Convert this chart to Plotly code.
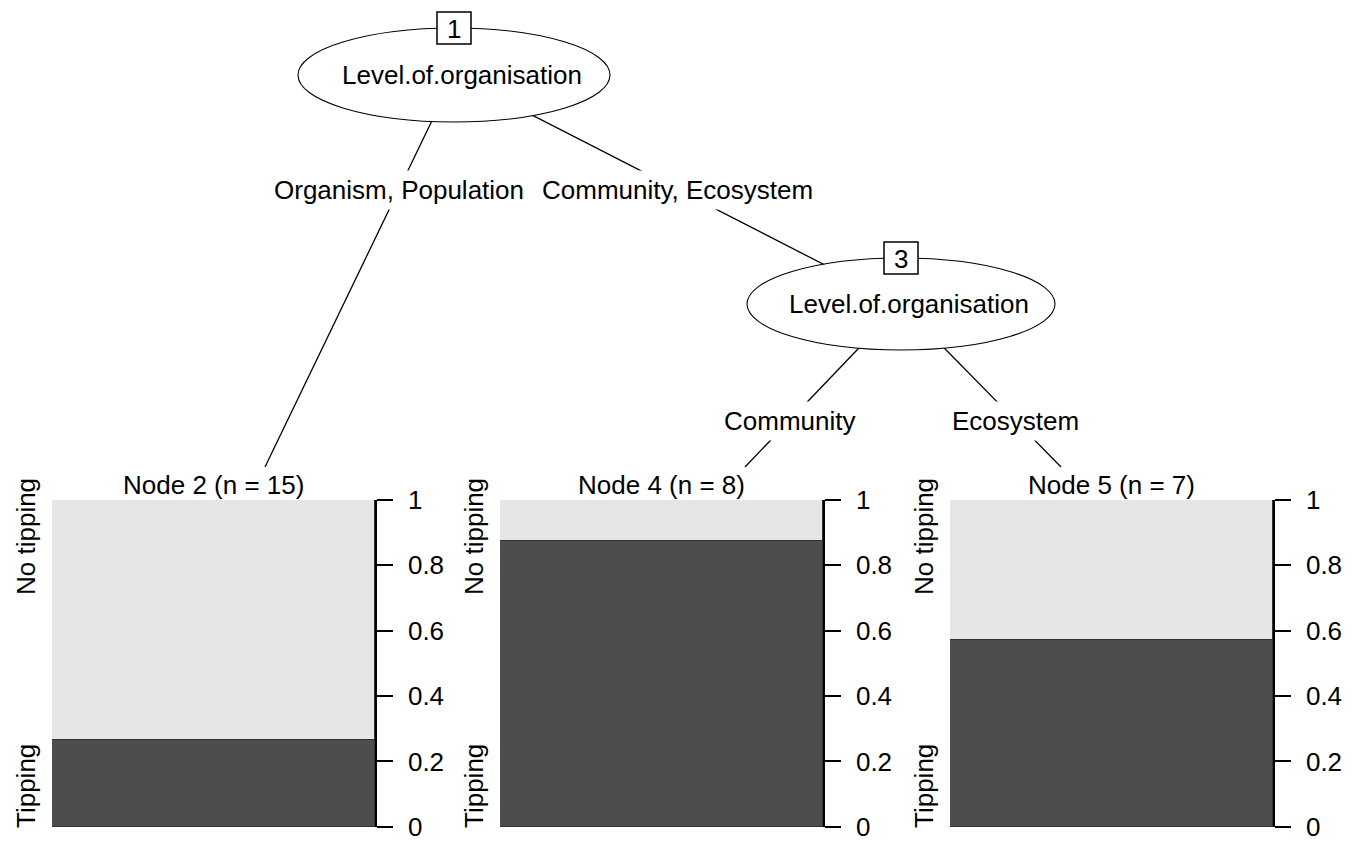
import plotly.graph_objects as go

W, H = 1354, 843
FONT = "Liberation Sans, Arial, Helvetica, sans-serif"
FS = 26

# ---- data ----
node_names = ["Node 2", "Node 4", "Node 5"]
node_n = [15, 8, 7]
class_names = ["Tipping", "No tipping"]
share_tipping = [0.267, 0.875, 0.571]
share_no_tipping = [0.733, 0.125, 0.429]
tick_vals = [0, 0.2, 0.4, 0.6, 0.8, 1]
tick_text = ["0", "0.2", "0.4", "0.6", "0.8", "1"]
inner_ids = [1, 3]
inner_vars = ["Level.of.organisation", "Level.of.organisation"]
edge_labels = ["Organism, Population", "Community, Ecosystem", "Community", "Ecosystem"]

# ---- layout geometry (pixels) ----
panel_left = [52, 500, 950]
panel_w = 323
panel_top, panel_bot = 500, 827
ell_centers = [(454, 75), (901, 304)]
ell_axes = [(156, 47), (154, 46)]
edges = [((454, 75), (265, 467)), ((454, 75), (901, 304)),
         ((901, 304), (745, 467)), ((901, 304), (1061, 467))]
label_pos = [(399, 190), (677, 190), (790, 421), (1015, 421)]

DARK, LIGHT = "#4D4D4D", "#E6E6E6"


def px(x):
    return x / W


def py(y):
    return 1 - y / H


fig = go.Figure()
layout_axes = {}
for i in range(3):
    k = "" if i == 0 else str(i + 1)
    xa, ya = "x" + k, "y" + k
    fig.add_trace(go.Bar(x=[0], y=[share_tipping[i]], width=1, xaxis=xa, yaxis=ya,
                         marker=dict(color=DARK, line=dict(color="#333", width=1)),
                         name=class_names[0], showlegend=False, hoverinfo="skip"))
    fig.add_trace(go.Bar(x=[0], y=[share_no_tipping[i]], width=1, xaxis=xa, yaxis=ya,
                         marker=dict(color=LIGHT, line=dict(color="#333", width=1)),
                         name=class_names[1], showlegend=False, hoverinfo="skip"))
    xd = [px(panel_left[i]), px(panel_left[i] + panel_w)]
    yd = [py(panel_bot), py(panel_top)]
    layout_axes["xaxis" + k] = dict(domain=xd, range=[-0.5, 0.5], visible=False, fixedrange=True)
    layout_axes["yaxis" + k] = dict(domain=yd, range=[-0.0005, 1], side="right", anchor=xa,
                                    showline=True, linecolor="black", linewidth=1.5,
                                    ticks="outside", ticklen=16, tickwidth=1.5, tickcolor="black",
                                    tickvals=tick_vals, ticktext=tick_text,
                                    tickfont=dict(family=FONT, size=FS, color="black"),
                                    ticklabelstandoff=10, ticklabeloverflow="allow",
                                    showgrid=False, zeroline=False, fixedrange=True)

shapes = []
annotations = []
# edges
for (p, c) in edges:
    shapes.append(dict(type="line", xref="paper", yref="paper",
                       x0=px(p[0]), y0=py(p[1]), x1=px(c[0]), y1=py(c[1]),
                       line=dict(color="black", width=1.3)))
# ellipses
for (cx, cy), (a, b), var in zip(ell_centers, ell_axes, inner_vars):
    shapes.append(dict(type="circle", xref="paper", yref="paper",
                       x0=px(cx - a), x1=px(cx + a), y0=py(cy + b), y1=py(cy - b),
                       fillcolor="white", line=dict(color="black", width=1.1)))
    annotations.append(dict(x=px(cx + 8), y=py(cy), xref="paper", yref="paper", text=var,
                            showarrow=False, font=dict(family=FONT, size=FS, color="black"),
                            xanchor="center", yanchor="middle"))
# id boxes
for (cx, cy), (a, b), nid in zip(ell_centers, ell_axes, inner_ids):
    top = cy - b
    shapes.append(dict(type="rect", xref="paper", yref="paper",
                       x0=px(cx - 17), x1=px(cx + 17), y0=py(top + 16), y1=py(top - 16),
                       fillcolor="white", line=dict(color="black", width=1.5)))
    annotations.append(dict(x=px(cx), y=py(top + 1), xref="paper", yref="paper", text=str(nid),
                            showarrow=False, font=dict(family=FONT, size=FS, color="black"),
                            xanchor="center", yanchor="middle"))
# edge labels
for txt, (lx, ly) in zip(edge_labels, label_pos):
    annotations.append(dict(x=px(lx), y=py(ly), xref="paper", yref="paper", text=txt,
                            showarrow=False, font=dict(family=FONT, size=FS, color="black"),
                            bgcolor="white", borderpad=4, xanchor="center", yanchor="middle"))
# terminal titles and class labels
for i in range(3):
    cx = panel_left[i] + panel_w / 2
    annotations.append(dict(x=px(cx), y=py(485), xref="paper", yref="paper",
                            text=f"{node_names[i]} (n = {node_n[i]})", showarrow=False,
                            font=dict(family=FONT, size=FS, color="black"),
                            xanchor="center", yanchor="middle"))
    annotations.append(dict(x=px(panel_left[i] - 26), y=py(537), xref="paper", yref="paper",
                            text=class_names[1], textangle=-90, showarrow=False,
                            font=dict(family=FONT, size=FS, color="black"),
                            xanchor="center", yanchor="middle"))
    annotations.append(dict(x=px(panel_left[i] - 26), y=py(786), xref="paper", yref="paper",
                            text=class_names[0], textangle=-90, showarrow=False,
                            font=dict(family=FONT, size=FS, color="black"),
                            xanchor="center", yanchor="middle"))

fig.update_layout(width=W, height=H, margin=dict(l=0, r=0, t=0, b=0, autoexpand=False),
                  paper_bgcolor="white", plot_bgcolor="white", barmode="stack",
                  bargap=0, showlegend=False, shapes=shapes, annotations=annotations,
                  font=dict(family=FONT, size=FS, color="black"), **layout_axes)

fig.write_html("out.html", config={"displayModeBar": False},
               post_script="document.body.style.margin='0';document.body.style.overflow='hidden';")
